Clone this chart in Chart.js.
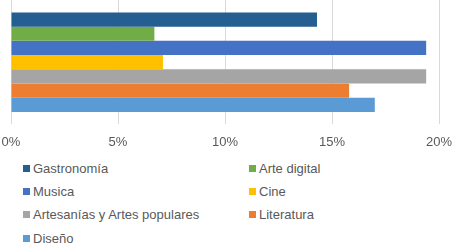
<!DOCTYPE html>
<html>
<head>
<meta charset="utf-8">
<script src="https://cdn.jsdelivr.net/npm/chart.js@4"></script>
<style>
  body { margin: 0; background: #fff; font-family: "Liberation Sans", Arial, sans-serif; }
  #wrap { position: relative; width: 452px; height: 243px; }
  #box { position: absolute; left: 0; top: 0; width: 452px; height: 160px; }
  .item { position: absolute; font-size: 13px; color: #595959; line-height: 16px; white-space: nowrap; }
  .item span { display: inline-block; width: 7px; height: 7px; margin-right: 3px; vertical-align: 1px; }
</style>
</head>
<body>
<div id="wrap">
  <div id="box"><canvas id="c"></canvas></div>
  <div id="legend"></div>
</div>
<script>
// series (one bar each), top to bottom
const seriesNames = ['Gastronomía', 'Arte digital', 'Musica', 'Cine', 'Artesanías y Artes populares', 'Literatura', 'Diseño'];
const seriesValues = [14.3, 6.7, 19.4, 7.1, 19.4, 15.8, 17.0];
const seriesColors = ['#255E91', '#70AD47', '#4472C4', '#FFC000', '#A5A5A5', '#ED7D31', '#5B9BD5'];
const tickValues = [0, 5, 10, 15, 20];

const datasets = seriesNames.map((name, i) => ({
  label: name,
  data: [seriesValues[i]],
  backgroundColor: seriesColors[i],
  categoryPercentage: 0.8,
  barPercentage: 1,
}));

new Chart(document.getElementById('c'), {
  type: 'bar',
  data: { labels: [''], datasets },
  options: {
    indexAxis: 'y',
    responsive: true,
    maintainAspectRatio: false,
    animation: false,
    layout: { padding: { left: 11, right: 13, top: 0, bottom: 0 } },
    scales: {
      x: {
        min: 0,
        max: 20,
        afterBuildTicks: axis => { axis.ticks = tickValues.map(v => ({ value: v })); },
        afterFit: axis => { axis.paddingLeft = 0; axis.paddingRight = 0; },
        grid: { color: '#D9D9D9', drawTicks: false },
        border: { display: false },
        ticks: {
          padding: 10,
          color: '#595959',
          font: { family: 'Liberation Sans', size: 13 },
          callback: v => v + '%',
        },
      },
      y: { display: false },
    },
    plugins: {
      legend: { display: false },
      tooltip: { enabled: false },
    },
  },
});

// legend in two columns
const legend = document.getElementById('legend');
seriesNames.forEach((name, i) => {
  const el = document.createElement('div');
  el.className = 'item';
  el.style.left = (i % 2 === 0 ? 23 : 249) + 'px';
  el.style.top = (161 + Math.floor(i / 2) * 23.2) + 'px';
  el.innerHTML = '<span style="background:' + seriesColors[i] + '"></span>' + name;
  legend.appendChild(el);
});
</script>
</body>
</html>
